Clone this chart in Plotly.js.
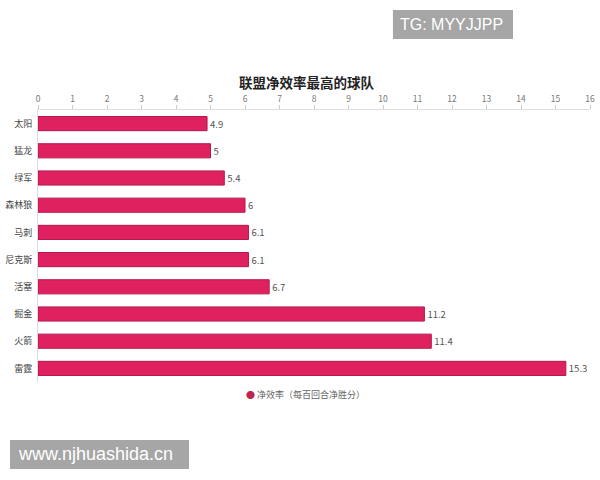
<!DOCTYPE html>
<html><head><meta charset="utf-8">
<script src="https://cdn.plot.ly/plotly-3.0.1.min.js"></script>
<style>html,body{margin:0;padding:0;background:#fff}#c{width:600px;height:480px}</style>
</head><body><div id="c"></div>
<script>
const teams = ["太阳","猛龙","绿军","森林狼","马刺","尼克斯","活塞","掘金","火箭","雷霆"];
const netRating = [4.9, 5, 5.4, 6, 6.1, 6.1, 6.7, 11.2, 11.4, 15.3];
const xTicks = [0,1,2,3,4,5,6,7,8,9,10,11,12,13,14,15,16];
const seriesName = "净效率（每百回合净胜分）";
const chartTitle = "联盟净效率最高的球队";
const font = '"Noto Sans CJK SC", "Noto Sans", sans-serif';
const wmFont = '"Liberation Sans", Arial, sans-serif';

const traces = [
  {type:'bar', orientation:'h', x:netRating, y:teams, name:seriesName, showlegend:false,
   marker:{color:'#DF2160', line:{color:'#B5174A', width:1}},
   text:netRating.map(String), textposition:'outside', cliponaxis:false,
   textfont:{size:9.5, color:'#555', family:font}, width:0.52}
];
const layout = {
  width:600, height:480,
  margin:{l:38, r:10, t:110, b:98},
  paper_bgcolor:'#fff', plot_bgcolor:'#fff',
  font:{family:font, color:'#444'},
  xaxis:{side:'top', range:[0,16], tickvals:xTicks, showgrid:false, zeroline:false,
         showline:true, linecolor:'#ddd', ticks:'outside', ticklen:4, tickcolor:'#ccc',
         tickfont:{size:8.5, color:'#777'}, fixedrange:true},
  yaxis:{autorange:'reversed', showgrid:false, zeroline:false, showline:true, linecolor:'#ddd',
         ticks:'', tickfont:{size:9, color:'#444'}, ticklabelstandoff:3, fixedrange:true},
  shapes:[
    {type:'rect', xref:'paper', yref:'paper', x0:0.643, x1:0.8605, y0:1.261, y1:1.3676,
     fillcolor:'#a6a6a6', line:{width:0}},
    {type:'rect', xref:'paper', yref:'paper', x0:-0.0507, x1:0.2736, y0:-0.3199, y1:-0.2132,
     fillcolor:'#a6a6a6', line:{width:0}}
  ],
  annotations:[
    {xref:'paper', yref:'paper', x:0.487, y:1.103, xanchor:'center', yanchor:'middle', showarrow:false,
     text:'<b>'+chartTitle+'</b>', font:{size:13.5, color:'#222', family:font}},
    {xref:'paper', yref:'paper', x:0.373, y:-0.047, xanchor:'left', yanchor:'middle', showarrow:false,
     text:'<span style="color:#C02550">●</span> '+seriesName, font:{size:9, color:'#666', family:font}},
    {xref:'paper', yref:'paper', x:0.652, y:1.314, xanchor:'left', yanchor:'middle', showarrow:false,
     text:'TG: MYYJJPP', font:{size:16, color:'#fff', family:wmFont}},
    {xref:'paper', yref:'paper', x:-0.040, y:-0.2665, xanchor:'left', yanchor:'middle', showarrow:false,
     text:'www.njhuashida.cn', font:{size:18, color:'#fff', family:wmFont}}
  ]
};
Plotly.newPlot('c', traces, layout, {displayModeBar:false, staticPlot:true});
</script></body></html>
